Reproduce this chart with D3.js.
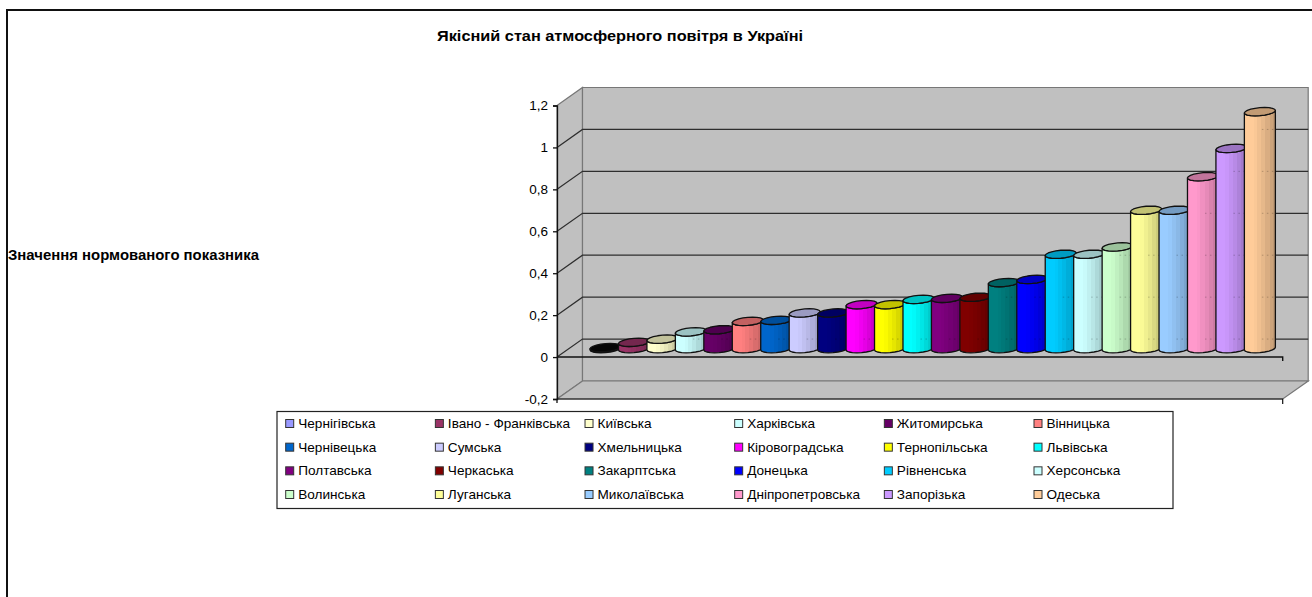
<!DOCTYPE html>
<html lang="uk">
<head>
<meta charset="utf-8">
<title>Якісний стан атмосферного повітря в Україні</title>
<script src="https://cdnjs.cloudflare.com/ajax/libs/d3/7.8.5/d3.min.js"></script>
<style>
  html, body { margin: 0; padding: 0; background: #fff; }
  svg { display: block; font-family: "Liberation Sans", Arial, sans-serif; }
</style>
</head>
<body>
<svg id="chart" width="1312" height="597"></svg>
<script>
// Regions in ascending order of the normalised indicator
const regions = [
  "Чернігівська", "Івано - Франківська", "Київська", "Харківська", "Житомирська", "Вінницька",
  "Чернівецька", "Сумська", "Хмельницька", "Кіровоградська", "Тернопільська", "Львівська",
  "Полтавська", "Черкаська", "Закарптська", "Донецька", "Рівненська", "Херсонська",
  "Волинська", "Луганська", "Миколаївська", "Дніпропетровська", "Запорізька", "Одеська"
];
const values = [
  0.005, 0.03, 0.045, 0.08, 0.09, 0.13,
  0.135, 0.17, 0.17, 0.21, 0.21, 0.235,
  0.24, 0.245, 0.315, 0.33, 0.45, 0.45,
  0.485, 0.66, 0.66, 0.82, 0.955, 1.13
];
const colors = [
  "#9999FF", "#993366", "#FFFFCC", "#CCFFFF", "#660066", "#FF8080",
  "#0066CC", "#CCCCFF", "#000080", "#FF00FF", "#FFFF00", "#00FFFF",
  "#800080", "#800000", "#008080", "#0000FF", "#00CCFF", "#CCFFFF",
  "#CCFFCC", "#FFFF99", "#99CCFF", "#FF99CC", "#CC99FF", "#FFCC99"
];
const yTicks = [-0.2, 0, 0.2, 0.4, 0.6, 0.8, 1, 1.2];
const chartTitle = "Якісний стан атмосферного повітря в Україні";
const yTitle = "Значення нормованого показника";

const svg = d3.select("#chart");
const defs = svg.append("defs");

// Oblique projection: front plane of the box and its depth offset
const front = { left: 557, right: 1282.7, top: 105.5, bottom: 399 };
const depth = { dx: 25.5, dy: -18 };
const y = d3.scaleLinear().domain([-0.2, 1.2]).range([front.bottom, front.top]);

// Bars stand halfway into the box
const barBaseShift = y(0) - 348.6;
const barY = v => y(v) - barBaseShift;
const x = d3.scaleBand().domain(regions).range([591.3, 1274.1]);
const barHalf = 15.5;
const ellipseB = 4;
const ellipseShear = 1.3;

const tickText = v => String(v).replace(".", ",");

// Outer chart frame: only the top and left edges fall inside the page
svg.append("path")
  .attr("d", "M7,597 V10 H1312")
  .attr("fill", "none")
  .attr("stroke", "#111")
  .attr("stroke-width", 2);

svg.append("text")
  .attr("x", 437).attr("y", 40.5)
  .attr("textLength", 366).attr("lengthAdjust", "spacingAndGlyphs")
  .attr("font-size", 14).attr("font-weight", "bold")
  .attr("fill", "#000")
  .text(chartTitle);

svg.append("text")
  .attr("x", 8).attr("y", 259.5)
  .attr("textLength", 251).attr("lengthAdjust", "spacingAndGlyphs")
  .attr("font-size", 14).attr("font-weight", "bold")
  .attr("fill", "#000")
  .text(yTitle);

// Box walls and floor
const wallGray = "#C0C0C0";
const b = { left: front.left + depth.dx, right: front.right + depth.dx,
            top: front.top + depth.dy, bottom: front.bottom + depth.dy };
const poly = pts => "M" + pts.map(p => p.join(",")).join("L") + "Z";

svg.append("path").attr("fill", wallGray).attr("stroke", "#777").attr("stroke-width", 1.2)
  .attr("d", poly([[front.left, front.top], [b.left, b.top], [b.left, b.bottom], [front.left, front.bottom]]));
svg.append("path").attr("fill", wallGray).attr("stroke", "#777").attr("stroke-width", 1.2)
  .attr("d", poly([[b.left, b.top], [b.right, b.top], [b.right, b.bottom], [b.left, b.bottom]]));
svg.append("path").attr("fill", wallGray).attr("stroke", "#777").attr("stroke-width", 1.2)
  .attr("d", poly([[front.left, front.bottom], [b.left, b.bottom], [b.right, b.bottom], [front.right, front.bottom]]));

// Gridlines run along the side wall and across the back wall
const grid = svg.append("g").attr("fill", "none").attr("stroke", "#2e2e2e").attr("stroke-width", 1.2);
yTicks.filter(t => t > -0.2 && t < 1.2).forEach(t => {
  grid.append("path").attr("d", d3.line()([
    [front.left, y(t)],
    [b.left, y(t) + depth.dy],
    [b.right, y(t) + depth.dy]
  ]));
});

// One cylinder outline point on the sheared ellipse at angle a
const rim = (cx, cy, a) => [
  cx + barHalf * Math.cos(a),
  cy + ellipseB * Math.sin(a) - ellipseShear * Math.cos(a)
];
const arc = (cx, cy, from, to, n = 10) =>
  d3.range(n + 1).map(i => rim(cx, cy, from + (to - from) * i / n));
const outline = d3.line();

// Stepped side shading, light on the left and darker on the right
const shadeStops = [
  [0, 1], [0.3, 1], [0.3, 0.98], [0.42, 0.98], [0.42, 0.94], [0.55, 0.94],
  [0.55, 0.9], [0.68, 0.9], [0.68, 0.85], [0.82, 0.85], [0.82, 0.8], [0.92, 0.8], [0.92, 0.75], [1, 0.75]
];
const scaleColor = (c, k) => {
  const r = d3.rgb(c);
  return d3.rgb(r.r * k, r.g * k, r.b * k).formatHex();
};

const bars = svg.append("g").selectAll("g")
  .data(regions.map((name, i) => ({ name, value: values[i], color: colors[i], i })))
  .join("g");

bars.each(function (d) {
  const g = d3.select(this);
  const cx = x(d.name) + x.bandwidth() / 2;
  const top = barY(d.value), base = barY(0);
  const gradId = "shade" + d.i;
  defs.append("linearGradient").attr("id", gradId)
    .selectAll("stop").data(shadeStops).join("stop")
    .attr("offset", s => s[0])
    .attr("stop-color", s => scaleColor(d.color, s[1]));

  // Side: down the left edge, along the front of the base, up the right edge
  const side = [...arc(cx, base, Math.PI, 0), ...arc(cx, top, 0, Math.PI)];
  g.append("path")
    .attr("d", outline(side) + "Z")
    .attr("fill", `url(#${gradId})`)
    .attr("stroke", "#111").attr("stroke-width", 1.3).attr("stroke-linejoin", "round");

  // Faint marks where the back gridlines meet the shaded part of the column
  yTicks.filter(t => t >= 0 && t < 1.2 && y(t) + depth.dy > top + 6 && y(t) + depth.dy < base - 2).forEach(t => {
    g.append("line")
      .attr("x1", cx + 2).attr("x2", cx + barHalf - 2)
      .attr("y1", y(t) + depth.dy).attr("y2", y(t) + depth.dy)
      .attr("stroke", "#000").attr("stroke-opacity", 0.22)
      .attr("stroke-dasharray", "1.5,3.5");
  });

  // Cap of the column; the shortest column collapses to a dark disc
  const capFill = d.value < 0.02 ? "#050505" : scaleColor(d.color, 0.76);
  g.append("path")
    .attr("d", outline(arc(cx, top, 0, 2 * Math.PI, 20)) + "Z")
    .attr("fill", capFill)
    .attr("stroke", "#111").attr("stroke-width", 1.3).attr("stroke-linejoin", "round");
});

// Front edge of the zero plane, drawn over the floor
svg.append("path")
  .attr("d", `M${front.left},${y(0)} H${front.right} v4`)
  .attr("fill", "none").attr("stroke", "#111").attr("stroke-width", 1.4);

svg.append("path")
  .attr("d", `M${front.left},${front.bottom} H${front.right} v5`)
  .attr("fill", "none").attr("stroke", "#111").attr("stroke-width", 1.2);

// Value axis, with a short stub below the lowest tick
const axis = d3.axisLeft(y).tickValues(yTicks).tickSize(4).tickPadding(5).tickFormat(tickText);
const axisG = svg.append("g").attr("transform", `translate(${front.left},0)`).call(axis);
axisG.selectAll("path, line").attr("stroke", "#111").attr("stroke-width", 1.3);
axisG.selectAll("text").attr("font-size", 13.5).attr("fill", "#000")
  .attr("font-family", '"Liberation Sans", Arial, sans-serif');
svg.append("line")
  .attr("x1", front.left).attr("x2", front.left)
  .attr("y1", front.bottom).attr("y2", front.bottom + 4)
  .attr("stroke", "#111").attr("stroke-width", 1.3);

// Legend
const legend = { left: 277, top: 411.5, width: 896, height: 97 };
const colX = d3.scalePoint().domain(d3.range(6)).range([285.7, 1034]);
const rowY = d3.scalePoint().domain(d3.range(4)).range([423.5, 494.5]);

svg.append("rect")
  .attr("x", legend.left).attr("y", legend.top)
  .attr("width", legend.width).attr("height", legend.height)
  .attr("fill", "#fff").attr("stroke", "#222").attr("stroke-width", 1.2);

const items = svg.append("g").selectAll("g")
  .data(regions.map((name, i) => ({ name, color: colors[i], col: i % 6, row: Math.floor(i / 6) })))
  .join("g")
  .attr("transform", d => `translate(${colX(d.col)},${rowY(d.row)})`);

items.append("rect")
  .attr("x", 0).attr("y", -4).attr("width", 8).attr("height", 8)
  .attr("fill", d => d.color)
  .attr("stroke", "#333").attr("stroke-width", 1);

items.append("text")
  .attr("x", 12.5).attr("y", 4.6)
  .attr("font-size", 13.6).attr("fill", "#000")
  .text(d => d.name);
</script>
</body>
</html>
